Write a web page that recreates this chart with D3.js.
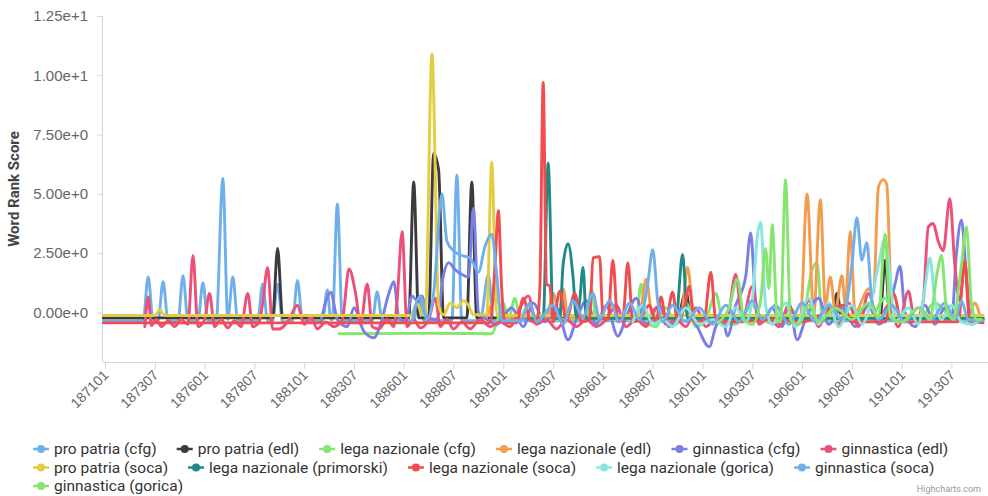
<!DOCTYPE html>
<html>
<head>
<meta charset="utf-8">
<script src="https://cdn.jsdelivr.net/npm/d3@7"></script>
<style>
  body { margin: 0; background: #fff; }
  svg { font-family: Roboto, "Noto Sans", sans-serif; }
</style>
</head>
<body>
<svg id="chart" width="988" height="496"></svg>
<script>
// Month categories, 187101 .. 191504 (index 0 = 187101)
const categories = d3.range(532).map(i => String((1871 + Math.floor(i / 12)) * 100 + (i % 12) + 1));

const tickLabels = ["187101", "187307", "187601", "187807", "188101", "188307", "188601", "188807",
  "189101", "189307", "189601", "189807", "190101", "190307", "190601", "190807", "191101", "191307"];

const yTicks = [0, 2.5, 5, 7.5, 10, 12.5];

const seriesNames = ["pro patria (cfg)", "pro patria (edl)", "lega nazionale (cfg)", "lega nazionale (edl)",
  "ginnastica (cfg)", "ginnastica (edl)", "pro patria (soca)", "lega nazionale (primorski)",
  "lega nazionale (soca)", "lega nazionale (gorica)", "ginnastica (soca)", "ginnastica (gorica)"];

const seriesColors = ["#6fb0ec", "#3a3a3f", "#84e56f", "#f39c50", "#7a7fe6", "#ec4f77",
  "#e2cd3f", "#1f8a87", "#f24c4f", "#88e6de", "#6fb0ec", "#84e56f"];

// points: [month index, word rank score]
const proPatriaCfg = [[-1,-0.35],[23,-0.35],[26,1.5],[29,-0.35],[32,-0.35],[35,1.3],[38,-0.35],[44,-0.35],[47,1.55],[50,-0.35],
  [56,-0.35],[59,1.25],[62,-0.35],[67,-0.35],[71,5.65],[74,-0.3],[77,1.5],[80,-0.35],[92,-0.35],[95,1.2],[98,-0.35],
  [101,-0.35],[104,1.2],[107,-0.4],[113,-0.35],[116,1.35],[119,-0.35],[131,-0.35],[134,0.95],[136,-0.3],[137,-0.3],
  [140,4.57],[143,-0.35],[161,-0.35],[164,0.86],[167,-0.35],[186,-0.35],[189,0.7],[192,-0.35],[209,-0.35],[212,5.8],
  [215,-0.35],[226,-0.35],[231,1.6],[234,-0.35],[300,-0.35],[400,-0.35],[529,-0.35]];

const proPatriaEdl = [[-1,-0.23],[101,-0.23],[104,2.7],[107,-0.23],[183,-0.23],[186,5.5],[189,-0.23],[195,-0.23],[198,6.7],
  [201,6.0],[204,-0.23],[218,-0.23],[221,5.5],[224,-0.23],[345,-0.23],[350,0.9],[353,-0.23],[438,-0.23],[441,0.8],
  [444,-0.23],[467,-0.23],[470,2.2],[473,-0.23],[529,-0.23]];

const legaNazCfg = [[141,-0.9],[200,-0.88],[233,-0.9],[237,-0.2],[240,0.4],[243,-0.3],[247,0.6],[250,-0.2],[255,0.3],[260,-0.3],
  [290,-0.3],[293,1.0],[296,-0.3],[320,-0.3],[323,1.2],[326,-0.4],[332,-0.6],[338,0.2],[344,-0.5],[350,0.4],[356,-0.6],
  [362,-0.3],[368,0.8],[372,-0.3],[380,-0.5],[390,0.3],[396,-0.3],[405,-0.5],[412,0.2],[420,-0.3],[426,1.8],[429,2.1],
  [432,-0.2],[440,-0.4],[450,0.2],[460,-0.3],[470,0.6],[476,-0.3],[490,-0.3],[500,0.4],[510,-0.2],[520,-0.3],[529,-0.3]];

const legaNazEdl = [[230,-0.2],[236,0.6],[240,-0.2],[266,-0.2],[270,0.8],[274,-0.2],[276,1.0],[279,-0.2],[322,-0.2],[326,1.4],
  [330,-0.2],[347,-0.2],[351,1.9],[355,-0.2],[419,-0.2],[423,5.0],[427,-0.1],[431,4.75],[434,0.3],[437,1.5],[440,0.0],
  [444,1.55],[446,0.3],[449,3.4],[452,-0.1],[456,0.5],[460,1.0],[463,0.8],[466,5.3],[469,5.6],[471,5.4],[474,0.2],
  [478,-0.2],[520,-0.2],[524,0.4],[527,-0.1]];

const ginnasticaCfg = [[130,-0.4],[136,0.85],[140,-0.3],[146,-0.6],[150,0.2],[156,-0.8],[162,-1.07],[166,-0.5],[171,0.8],
  [174,1.3],[177,-0.2],[181,-0.4],[185,0.7],[188,0.5],[191,0.7],[194,-0.2],[200,-0.3],[204,1.6],[207,2.1],[211,1.8],
  [215,1.6],[219,1.5],[222,4.4],[225,0.0],[230,-0.3],[236,-0.5],[245,0.2],[252,-0.6],[258,0.4],[265,-0.4],[272,0.2],
  [279,-1.15],[284,-0.3],[290,0.5],[296,-0.5],[302,0.3],[309,-1.0],[314,-0.2],[320,0.6],[326,-0.5],[334,0.3],[340,-0.6],
  [348,0.2],[356,-0.5],[364,-1.45],[368,-0.6],[372,-0.2],[375,-1.0],[380,0.3],[386,1.5],[389,3.35],[392,0.5],[396,-0.4],
  [402,0.2],[408,-0.6],[412,0.4],[417,-1.15],[422,-0.3],[430,0.6],[436,-0.5],[444,0.2],[452,-0.6],[460,0.3],[466,-0.5],
  [472,0.0],[476,1.2],[479,1.95],[482,0.0],[488,-0.6],[494,0.3],[500,-0.5],[506,0.2],[510,-0.4],[513,2.5],[516,3.9],
  [519,1.5],[522,-0.5],[526,-0.3],[529,-0.3]];

const ginnasticaEdl = [[24,-0.6],[26,0.65],[28,-0.55],[31,-0.3],[34,-0.6],[38,-0.35],[42,-0.6],[46,-0.3],[50,-0.5],[53,2.4],
  [56,-0.6],[60,-0.3],[63,0.8],[66,-0.6],[70,-0.3],[74,-0.65],[78,-0.35],[82,-0.6],[86,0.8],[89,-0.6],[93,-0.4],[95,0.4],
  [98,1.9],[101,-0.7],[105,-0.7],[110,-0.4],[116,0.3],[120,-0.5],[124,-0.2],[128,-0.7],[133,-0.4],[138,-0.6],[143,-0.3],
  [147,1.83],[151,0.8],[154,-0.5],[158,1.2],[161,-0.6],[165,-0.7],[170,-0.3],[174,-0.6],[176,0.5],[179,3.4],[182,-0.6],
  [186,-0.3],[190,-0.65],[195,-0.3],[199,0.6],[202,-0.6],[206,-0.3],[210,-0.7],[215,-0.4],[220,-0.7],[226,-0.3],[232,-0.6],
  [238,-0.4],[244,-0.6],[250,0.2],[255,0.7],[260,-0.5],[266,-0.3],[272,-0.7],[278,-0.3],[284,-0.6],[290,-0.3],[296,-0.6],
  [302,-0.3],[308,0.3],[314,-0.6],[320,-0.3],[326,-0.6],[332,0.2],[338,-0.5],[344,-0.3],[350,-0.6],[356,0.2],[362,-0.6],
  [368,-0.3],[374,-0.6],[380,1.6],[384,-0.3],[390,1.1],[394,-0.5],[400,-0.2],[406,-0.6],[412,0.3],[418,-0.5],[424,0.5],
  [430,-0.6],[436,0.2],[442,-0.5],[448,0.4],[454,-0.6],[460,0.8],[466,-0.4],[472,0.3],[478,-0.6],[484,0.9],[488,-0.4],
  [493,0.5],[496,3.6],[499,3.75],[502,3.0],[505,2.6],[509,4.8],[512,2.0],[515,0.5],[518,2.2],[521,-0.3],[525,-0.4],[529,-0.3]];

const proPatriaSoca = [[-1,-0.13],[30,-0.13],[33,0.1],[36,-0.13],[184,-0.13],[188,0.4],[191,-0.1],[193,-0.1],[197,10.9],
  [201,0.3],[204,-0.1],[208,0.4],[212,0.2],[216,0.5],[219,0.3],[222,-0.1],[230,-0.1],[233,6.35],[236,-0.1],[240,-0.13],
  [529,-0.13]];

const legaNazPrimorski = [[255,-0.25],[264,-0.25],[267,6.3],[270,-0.25],[274,-0.25],[276,2.0],[279,2.9],[282,1.5],[284,-0.2],
  [286,0.5],[288,1.9],[290,-0.25],[344,-0.25],[348,2.45],[351,-0.25],[529,-0.25]];

const legaNazSoca = [[-1,-0.44],[232,-0.44],[235,2.0],[237,4.3],[239,1.0],[241,-0.44],[248,-0.44],[252,0.6],[256,-0.3],
  [260,-0.44],[262,1.0],[264,9.7],[266,1.2],[268,1.1],[270,-0.4],[274,0.9],[278,-0.3],[283,0.8],[287,-0.4],[292,-0.3],
  [294,2.3],[298,2.35],[300,-0.2],[303,-0.3],[306,2.2],[309,-0.4],[312,-0.3],[315,2.1],[318,-0.4],[322,-0.3],[328,0.3],
  [332,-0.4],[335,0.65],[338,-0.3],[342,0.85],[345,-0.4],[349,0.2],[352,1.1],[355,-0.4],[361,-0.3],[365,1.7],[368,-0.3],
  [380,-0.4],[400,-0.3],[420,-0.4],[445,0.3],[450,-0.4],[470,-0.4],[475,0.8],[480,-0.4],[514,-0.4],[518,2.1],[521,-0.4],
  [529,-0.44]];

const legaNazGorica = [[318,-0.4],[324,0.3],[330,-0.5],[336,-0.3],[342,-0.6],[350,0.2],[358,-0.5],[366,-0.3],[374,-0.6],
  [380,0.2],[386,-0.4],[390,0.5],[393,3.2],[395,3.8],[398,0.3],[402,-0.5],[410,0.4],[416,-0.6],[424,0.6],[430,-0.5],
  [436,0.4],[442,-0.6],[450,0.3],[456,-0.5],[462,0.6],[466,2.0],[470,3.1],[473,1.5],[476,-0.4],[484,0.2],[490,-0.5],
  [494,1.0],[497,2.3],[500,0.5],[504,-0.3],[510,0.3],[516,-0.4],[522,-0.5],[526,-0.4]];

const ginnasticaSoca = [[185,-0.35],[190,0.7],[194,-0.3],[198,0.8],[203,5.0],[206,3.0],[210,2.6],[215,2.4],[220,2.3],[225,1.7],
  [229,2.8],[233,3.3],[236,1.6],[239,-0.35],[250,-0.35],[256,0.4],[260,-0.4],[270,0.3],[276,-0.5],[282,0.5],[288,-0.2],
  [294,0.8],[298,-0.3],[304,0.5],[310,-0.4],[316,0.4],[322,-0.3],[327,1.2],[330,2.65],[333,0.5],[336,-0.4],[342,0.3],
  [350,-0.4],[358,0.2],[366,-0.5],[374,0.3],[382,-0.4],[390,0.5],[396,-0.3],[404,0.3],[412,-0.5],[420,0.4],[428,-0.4],
  [436,0.3],[444,-0.3],[450,2.0],[453,4.0],[456,2.2],[459,2.95],[462,0.5],[466,-0.3],[474,0.3],[482,-0.4],[490,0.2],
  [498,-0.3],[506,0.4],[512,-0.3],[516,0.5],[520,-0.3],[529,-0.35]];

const ginnasticaGorica = [[370,-0.4],[376,0.2],[381,1.4],[385,-0.3],[390,-0.5],[395,0.5],[398,2.7],[400,1.0],[402,3.7],
  [405,-0.3],[407,-0.4],[410,5.6],[413,-0.3],[418,-0.5],[424,0.3],[430,-0.4],[440,0.2],[450,-0.3],[460,0.4],[466,-0.2],
  [470,3.3],[473,-0.2],[480,-0.4],[490,0.2],[497,-0.3],[501,1.5],[504,2.4],[507,0.2],[511,-0.3],[516,2.0],[519,3.6],
  [522,0.4],[525,-0.3],[528,-0.3]];

const seriesData = [proPatriaCfg, proPatriaEdl, legaNazCfg, legaNazEdl, ginnasticaCfg, ginnasticaEdl,
  proPatriaSoca, legaNazPrimorski, legaNazSoca, legaNazGorica, ginnasticaSoca, ginnasticaGorica];

// Layout
const plot = { left: 103, right: 988, top: 16, bottom: 362 };
const svg = d3.select("#chart");

const x = d3.scaleLinear().domain([-1.2, categories.length]).range([plot.left, plot.right]);
const y = d3.scaleLinear().domain([-2.09, 12.5]).range([plot.bottom, plot.top]);

// Y axis
const yAxis = svg.append("g")
    .attr("transform", `translate(${plot.left},0)`)
    .call(d3.axisLeft(y).tickValues(yTicks).tickSize(6).tickPadding(9).tickFormat(d => d.toExponential(2)));
yAxis.select(".domain").attr("stroke", "#ccd6eb").attr("d", `M-0.5,${plot.top}V${plot.bottom}`);
yAxis.selectAll(".tick line").attr("stroke", "#ccd6eb");
yAxis.selectAll(".tick text").attr("fill", "#666").style("font-size", "15px");

svg.append("text")
    .attr("transform", `translate(19,${(plot.top + plot.bottom) / 2}) rotate(-90)`)
    .attr("text-anchor", "middle")
    .attr("fill", "#444")
    .style("font-size", "15px")
    .style("font-weight", "bold")
    .text("Word Rank Score");

// X axis
const xAxis = svg.append("g")
    .attr("transform", `translate(0,${plot.bottom})`)
    .call(d3.axisBottom(x).tickValues(tickLabels.map(t => categories.indexOf(t))).tickSize(7)
      .tickFormat(i => categories[i]));
xAxis.select(".domain").attr("stroke", "#ccd6eb").attr("d", `M${plot.left},0.5H${plot.right}`);
xAxis.selectAll(".tick line").attr("stroke", "#ccd6eb");
xAxis.selectAll(".tick text")
    .attr("fill", "#666")
    .style("font-size", "14px")
    .attr("text-anchor", "end")
    .attr("dy", null)
    .attr("y", 0)
    .attr("transform", "translate(4,14) rotate(-45)");

// Series
const line = d3.line()
    .x(d => x(d[0]))
    .y(d => y(d[1]))
    .curve(d3.curveMonotoneX);

svg.append("g")
  .selectAll("path")
  .data(seriesData)
  .join("path")
    .attr("d", line)
    .attr("fill", "none")
    .attr("stroke", (d, i) => seriesColors[i])
    .attr("stroke-width", 2.9)
    .attr("stroke-linejoin", "round")
    .attr("stroke-linecap", "round");

// Legend
const legend = svg.append("g").style("font-size", "15.5px");
let lx = 33, ly = 449;
seriesNames.forEach((name, i) => {
  const item = legend.append("g");
  const label = item.append("text")
      .attr("x", 21)
      .attr("dy", "0.35em")
      .attr("fill", "#333")
      .text(name);
  const w = 21 + label.node().getComputedTextLength();
  if (lx + w > 972) { lx = 33; ly += 18.5; }
  item.attr("transform", `translate(${lx},${ly})`);
  item.insert("line", "text").attr("x1", 0).attr("x2", 16)
      .attr("stroke", seriesColors[i]).attr("stroke-width", 2.5);
  item.insert("circle", "text").attr("cx", 8).attr("r", 4).attr("fill", seriesColors[i]);
  lx += w + 20;
});

// Credits
svg.append("text")
    .attr("x", 981)
    .attr("y", 492)
    .attr("text-anchor", "end")
    .attr("fill", "#999")
    .style("font-size", "9px")
    .text("Highcharts.com");
</script>
</body>
</html>
